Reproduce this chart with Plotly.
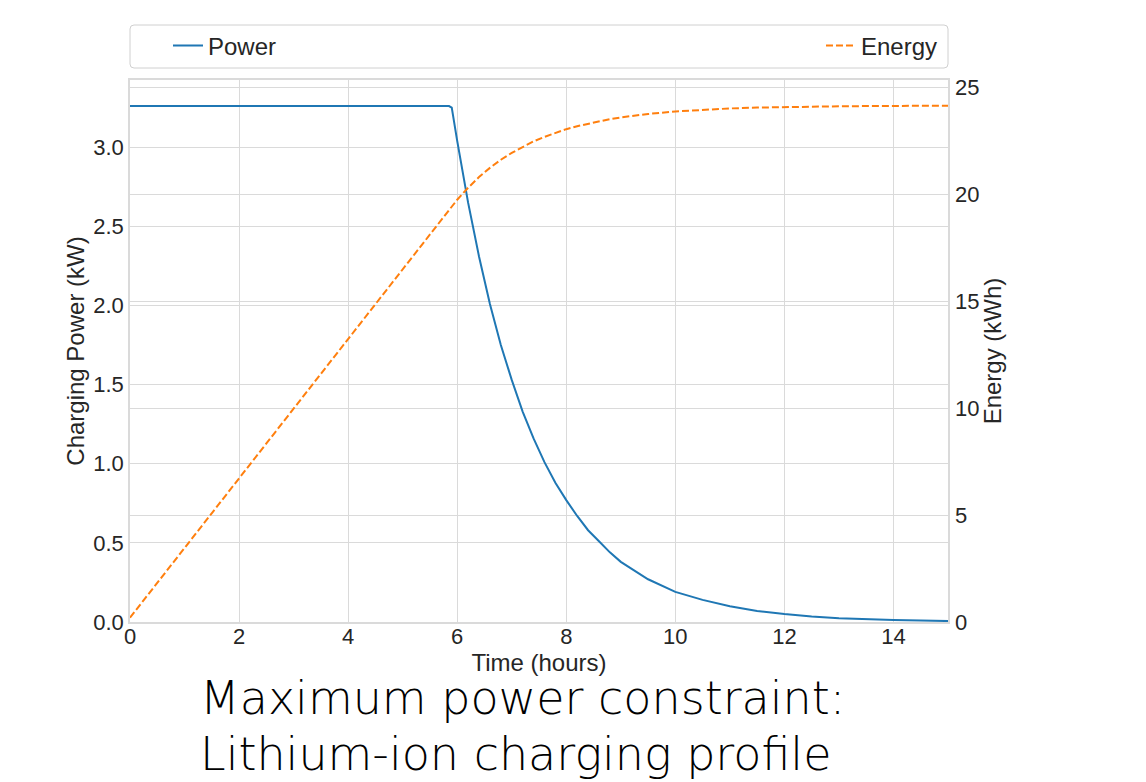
import plotly.graph_objects as go

# Time (hours)
time_h = [0, 1, 2, 3, 4, 5, 5.8, 5.85, 5.9, 6.0, 6.2, 6.4, 6.6, 6.8, 7.0, 7.2, 7.4, 7.6, 7.8,
          8.0, 8.2, 8.4, 8.6, 8.8, 9.0, 9.5, 10.0, 10.5, 11.0, 11.5, 12.0, 12.5, 13.0,
          13.5, 14.0, 14.5, 15.0]
# Charging power (kW)
power_kw = [3.26, 3.26, 3.26, 3.26, 3.26, 3.26, 3.26, 3.26, 3.25, 3.04, 2.65, 2.31, 2.01, 1.75,
            1.53, 1.33, 1.16, 1.01, 0.88, 0.77, 0.67, 0.58, 0.51, 0.44, 0.38, 0.27, 0.19,
            0.14, 0.10, 0.07, 0.05, 0.034, 0.024, 0.017, 0.012, 0.009, 0.006]
# Energy (kWh)
energy_kwh = [0.2, 3.46, 6.72, 9.98, 13.24, 16.5, 19.1, 19.27, 19.43, 19.75, 20.31, 20.81, 21.24,
              21.62, 21.94, 22.23, 22.48, 22.69, 22.88, 23.05, 23.19, 23.31, 23.42, 23.52,
              23.6, 23.76, 23.88, 23.96, 24.02, 24.06, 24.09, 24.11, 24.12, 24.13, 24.14,
              24.14, 24.15]

x_ticks = [0, 2, 4, 6, 8, 10, 12, 14]
left_ticks = [0.0, 0.5, 1.0, 1.5, 2.0, 2.5, 3.0]
right_ticks = [0, 5, 10, 15, 20, 25]
caption_lines = ["Maximum power constraint:", "Lithium-ion charging profile"]

W, H = 1146, 782
ML, MR, MT, MB = 130, 198, 80, 160
PW, PH = W - ML - MR, H - MT - MB

def px_x(p):
    return (p - ML) / PW

def px_y(p):
    return (H - MB - p) / PH

GRID = "#dadada"
TXT = "#262626"
FONT = "Liberation Sans, Arial, sans-serif"

fig = go.Figure()
fig.add_trace(go.Scatter(x=time_h, y=power_kw, mode="lines", name="Power", showlegend=True,
                         line=dict(color="#1f77b4", width=2), legend="legend"))
fig.add_trace(go.Scatter(x=time_h, y=energy_kwh, mode="lines", name="Energy", yaxis="y2",
                         showlegend=True,
                         line=dict(color="#ff7f0e", width=2, dash="7px,3px"), legend="legend2"))

# legend frame (rounded rectangle)
x0, x1 = px_x(130), px_x(948)
y0, y1 = px_y(68), px_y(25)
rx, ry = 4 / PW, 4 / PH
path = (f"M{x0+rx},{y0} L{x1-rx},{y0} Q{x1},{y0} {x1},{y0+ry} L{x1},{y1-ry} Q{x1},{y1} {x1-rx},{y1} "
        f"L{x0+rx},{y1} Q{x0},{y1} {x0},{y1-ry} L{x0},{y0+ry} Q{x0},{y0} {x0+rx},{y0} Z")
fig.add_shape(type="path", path=path, xref="paper", yref="paper",
              line=dict(color="#d0d0d0", width=1), fillcolor="rgba(255,255,255,0.8)", layer="below")

for i, line in enumerate(caption_lines):
    fig.add_annotation(text=line, xref="paper", yref="paper", x=px_x(198), y=px_y(698 + 56 * i),
                       xanchor="left", yanchor="middle", showarrow=False,
                       font=dict(family="DejaVu Sans, sans-serif", size=46, color="#000000", weight=200))

fig.update_layout(
    width=W, height=H, showlegend=True,
    margin=dict(l=ML, r=MR, t=MT, b=MB, autoexpand=False),
    paper_bgcolor="white", plot_bgcolor="white",
    font=dict(family=FONT, size=22, color=TXT),
    legend=dict(x=px_x(168), y=px_y(46), xanchor="left", yanchor="middle",
                bgcolor="rgba(0,0,0,0)", font=dict(size=24, color=TXT)),
    legend2=dict(x=px_x(943), y=px_y(46), xanchor="right", yanchor="middle",
                 bgcolor="rgba(0,0,0,0)", font=dict(size=24, color=TXT)),
    xaxis=dict(range=[0, 15], tickvals=x_ticks, showgrid=True, gridcolor=GRID, gridwidth=1,
               showline=True, linecolor=GRID, linewidth=1.5, mirror=True, zeroline=False,
               ticks="", ticklabelstandoff=-6,
               title=dict(text="Time (hours)", font=dict(size=24), standoff=5)),
    yaxis=dict(range=[0, 3.425], tickvals=left_ticks, tickformat=".1f", showgrid=True,
               gridcolor=GRID, gridwidth=1, showline=True, linecolor=GRID, linewidth=1.5,
               mirror=True, zeroline=False, ticks="", ticklabelstandoff=0,
               title=dict(text="Charging Power (kW)", font=dict(size=24), standoff=2)),
    yaxis2=dict(range=[0, 25.35], tickvals=right_ticks, overlaying="y", side="right",
                showgrid=True, gridcolor=GRID, gridwidth=1, zeroline=False, showline=False,
                ticks="", ticklabelstandoff=6,
                title=dict(text="Energy (kWh)", font=dict(size=24), standoff=4)),
)

fig.write_html("out.html")
